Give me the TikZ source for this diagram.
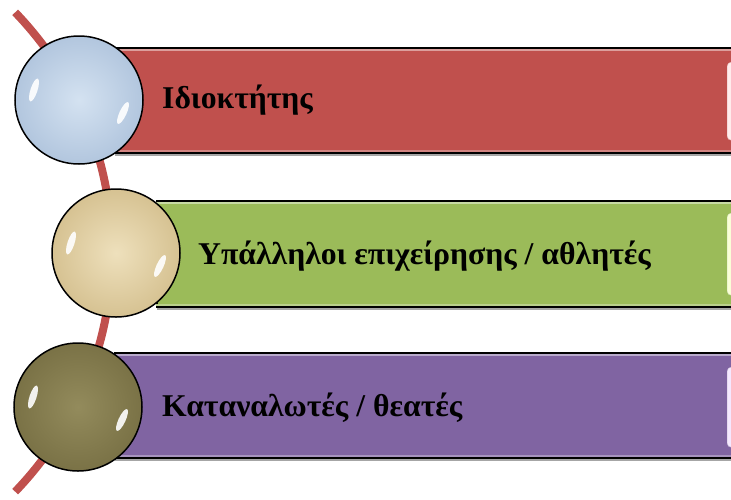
\documentclass[tikz,border=0pt]{standalone}
\usepackage{fontspec}
\setmainfont{Liberation Serif}
\usetikzlibrary{shadows}
\definecolor{barred}{RGB}{192,80,77}
\definecolor{bargreen}{RGB}{155,187,89}
\definecolor{barpurple}{RGB}{128,100,162}
\definecolor{tabred}{RGB}{255,236,236}
\definecolor{tabgreen}{RGB}{250,255,215}
\definecolor{tabpurple}{RGB}{245,232,255}
\definecolor{blueIn}{RGB}{212,226,241}
\definecolor{blueOut}{RGB}{178,198,222}
\definecolor{papIn}{RGB}{238,224,188}
\definecolor{papOut}{RGB}{214,194,146}
\definecolor{oliIn}{RGB}{147,139,92}
\definecolor{oliOut}{RGB}{122,114,70}
\tikzset{
  barbox/.style={rectangle, draw=black, line width=1.5pt, inner sep=0pt,
    drop shadow={shadow xshift=0pt, shadow yshift=-3pt, opacity=0.35, fill=black}},
  tabbox/.style={rectangle, rounded corners=4pt, inner sep=0pt, minimum width=40pt},
  ball/.style={circle, draw=black, line width=1.5pt, minimum size=128pt, inner sep=0pt},
  lbl/.style={font=\fontsize{31.7}{34}\selectfont\bfseries, text=black, inner sep=0pt},
  shine/.style={white, opacity=0.9}
}
\begin{document}
\begin{tikzpicture}[x=1pt,y=-1pt]
\useasboundingbox (0,0) rectangle (731,499);
% red arc behind everything
\draw[barred, line width=8pt] plot[domain=-44:44, samples=80] ({-233+345*cos(\x)}, {252+345*sin(\x)});
% bars
\node[barbox, fill=barred, minimum width=630pt, minimum height=105pt] (b1) at (430,100.5) {};
\node[barbox, fill=bargreen, minimum width=588pt, minimum height=106pt] (b2) at (451,254) {};
\node[barbox, fill=barpurple, minimum width=630pt, minimum height=105pt] (b3) at (430,405.5) {};
% light edges inside bars
\foreach \b/\c in {b1/barred, b2/bargreen, b3/barpurple}{
  \draw[\c!55!white, line width=2pt] ([yshift=-3pt]\b.north west) -- ([yshift=-3pt]\b.north east);
  \draw[\c!70!white, line width=1.5pt] ([yshift=3pt]\b.south west) -- ([yshift=3pt]\b.south east);
}
% tabs at right
\node[tabbox, fill=tabred, draw=barred!40!white, minimum height=78pt, anchor=north west] (r1) at (727,62) {};
\node[tabbox, fill=tabgreen, draw=bargreen!40!white, minimum height=82pt, anchor=north west] (r2) at (727,213) {};
\node[tabbox, fill=tabpurple, draw=barpurple!40!white, minimum height=80pt, anchor=north west] (r3) at (727,367) {};
% balls
\node[ball, inner color=blueIn, outer color=blueOut] (c1) at (79,100) {};
\node[ball, inner color=papIn, outer color=papOut] (c2) at (116,253) {};
\node[ball, inner color=oliIn, outer color=oliOut] (c3) at (78,407) {};
\foreach \c in {c1,c2,c3}{
  \fill[shine] ([shift={(-45,-10)}]\c.center) ellipse [x radius=3.5, y radius=12, rotate=-18];
  \fill[shine] ([shift={(44,13)}]\c.center) ellipse [x radius=3.5, y radius=12, rotate=-25];
}
% labels
\node[lbl, anchor=base west] (t1) at (162,108) {Ιδιοκτήτης};
\node[lbl, anchor=base west] (t2) at (198,264) {Υπάλληλοι επιχείρησης / αθλητές};
\node[lbl, anchor=base west] (t3) at (162,416) {Καταναλωτές / θεατές};
\end{tikzpicture}
\end{document}
